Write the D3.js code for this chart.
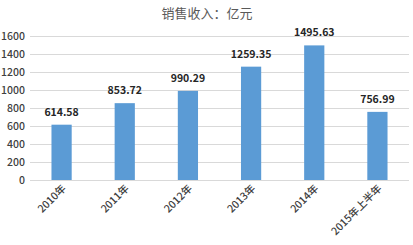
<!DOCTYPE html>
<html>
<head>
<meta charset="utf-8">
<script src="https://cdn.jsdelivr.net/npm/d3@7"></script>
<style>
  body { margin: 0; background: #fff; }
  text { font-family: "Noto Sans CJK SC", "DejaVu Sans", sans-serif; }
</style>
</head>
<body>
<div id="chart"></div>
<script>
const categories = ['2010年', '2011年', '2012年', '2013年', '2014年', '2015年上半年'];
const values = [614.58, 853.72, 990.29, 1259.35, 1495.63, 756.99];
const yTicks = [0, 200, 400, 600, 800, 1000, 1200, 1400, 1600];
const title = '销售收入：亿元';

const width = 413, height = 245;
const margin = { top: 36, right: 4, bottom: 65, left: 30 };

const svg = d3.select('#chart').append('svg')
  .attr('width', width)
  .attr('height', height);

const x = d3.scaleBand()
  .domain(categories)
  .range([margin.left, width - margin.right])
  .paddingInner(0.68)
  .paddingOuter(0.34);

const y = d3.scaleLinear()
  .domain([0, 1600])
  .range([height - margin.bottom, margin.top]);

// gridlines
svg.append('g')
  .selectAll('line')
  .data(yTicks)
  .join('line')
  .attr('x1', margin.left)
  .attr('x2', width - margin.right)
  .attr('y1', d => y(d) + 0.5)
  .attr('y2', d => y(d) + 0.5)
  .attr('stroke', '#d9d9d9')
  .attr('stroke-width', 1);

// y labels
svg.append('g')
  .selectAll('text')
  .data(yTicks)
  .join('text')
  .attr('x', 25)
  .attr('y', d => y(d) + 4)
  .attr('text-anchor', 'end')
  .attr('font-size', 10.5)
  .attr('font-weight', 500)
  .attr('fill', '#404040')
  .text(d => d);

// bars
svg.append('g')
  .selectAll('rect')
  .data(values)
  .join('rect')
  .attr('x', (d, i) => x(categories[i]))
  .attr('y', d => y(d))
  .attr('width', x.bandwidth())
  .attr('height', d => y(0) - y(d))
  .attr('fill', '#5b9bd5');

// value labels
svg.append('g')
  .selectAll('text')
  .data(values)
  .join('text')
  .attr('x', (d, i) => x(categories[i]) + x.bandwidth() / 2)
  .attr('y', d => y(d) - 9)
  .attr('text-anchor', 'middle')
  .attr('font-size', 10.5)
  .attr('font-weight', 600)
  .attr('fill', '#262626')
  .text(d => d.toFixed(2));

// x labels
svg.append('g')
  .selectAll('text')
  .data(categories)
  .join('text')
  .attr('transform', d => `translate(${x(d) + x.bandwidth() / 2 + 5},${y(0) + 9}) rotate(-45)`)
  .attr('text-anchor', 'end')
  .attr('font-size', 10.5)
  .attr('font-weight', 500)
  .attr('fill', '#404040')
  .text(d => d);

// title
svg.append('text')
  .attr('x', 207)
  .attr('y', 18)
  .attr('text-anchor', 'middle')
  .attr('font-size', 13)
  .attr('fill', '#595959')
  .text(title);
</script>
</body>
</html>
